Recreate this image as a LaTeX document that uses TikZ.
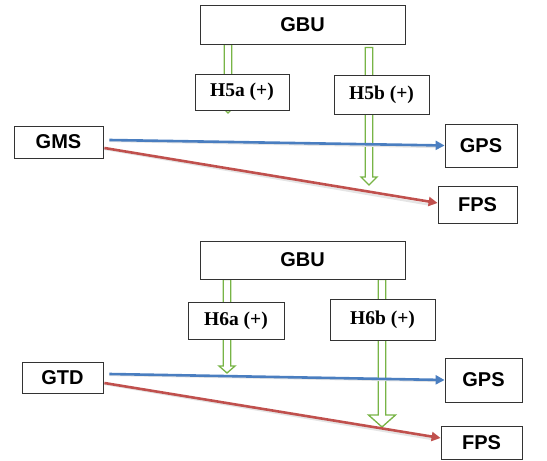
\documentclass[tikz,border=0pt]{standalone}
\usepackage{fontspec}
\setmainfont{Liberation Serif}
\setsansfont{Liberation Sans}
\usepackage{xcolor}
\usepackage{tikz}
\usetikzlibrary{arrows.meta, calc, backgrounds}
\definecolor{linkblue}{HTML}{4A7EC0}
\definecolor{linkred}{HTML}{C0504D}
\definecolor{hypgreen}{HTML}{78B446}

% hollow block arrow: start, tip, head length, head half width
\newcommand{\hollowarrow}[4]{%
    \draw[hollow] let \p1=#1, \p2=#2 in
      (\x1-3.8pt,\y1) -- (\x1-3.8pt,\y2+#3) -- (\x1-#4,\y2+#3) -- (\x2,\y2)
      -- (\x1+#4,\y2+#3) -- (\x1+3.8pt,\y2+#3) -- (\x1+3.8pt,\y1) -- cycle;}

\begin{document}
\begin{tikzpicture}[x=1pt, y=-1pt,
    varbox/.style={draw=black!80, line width=0.8pt, fill=white, inner sep=0pt,
                   font=\sffamily\bfseries\fontsize{20}{22}\selectfont},
    hypbox/.style={draw=black!80, line width=0.8pt, fill=white, inner sep=0pt,
                   font=\rmfamily\bfseries\fontsize{19.5}{22}\selectfont},
    hollow/.style={draw=hypgreen, line width=1.3pt, fill=white},
    bluelink/.style={draw=linkblue, line width=2.6pt, -{Triangle[length=9pt, width=9pt]}},
    redlink/.style={draw=linkred, line width=2.6pt, -{Triangle[length=9pt, width=9pt]}},
    shade/.style={draw=black!10, line width=2.2pt}]
    \useasboundingbox (0,0) rectangle (547,461);

    % upper model
    \node[varbox, minimum width=205pt, minimum height=39pt] (gbuA) at (302.5,24.5) {GBU};
    \node[hypbox, minimum width=94pt, minimum height=36pt] (hfa) at (242,92) {H5a (+)};
    \node[hypbox, minimum width=95pt, minimum height=39pt] (hfb) at (381.5,94.5) {H5b (+)};
    \node[varbox, minimum width=89pt, minimum height=32pt] (gms) at (58.5,142) {GMS};
    \node[varbox, minimum width=72pt, minimum height=43pt] (gpsA) at (481,145.5) {GPS};
    \node[varbox, minimum width=79pt, minimum height=37pt] (fpsA) at (477.5,204.5) {FPS};

    % lower model
    \node[varbox, minimum width=205pt, minimum height=38pt] (gbuB) at (302.5,260) {GBU};
    \node[hypbox, minimum width=96pt, minimum height=37pt] (hsa) at (236,320.5) {H6a (+)};
    \node[hypbox, minimum width=105pt, minimum height=41pt] (hsb) at (382.5,319.5) {H6b (+)};
    \node[varbox, minimum width=81pt, minimum height=31pt] (gtd) at (62.5,377.5) {GTD};
    \node[varbox, minimum width=77pt, minimum height=44pt] (gpsB) at (483.5,380) {GPS};
    \node[varbox, minimum width=81pt, minimum height=33pt] (fpsB) at (481.5,442.5) {FPS};

    \coordinate (tipA1) at (228,113);
    \coordinate (tipB1) at (369,185);
    \coordinate (tipA2) at (227,373);
    \coordinate (tipB2) at (382,427);

    \begin{pgfonlayer}{background}
      \hollowarrow{(gbuA.south -| tipA1)}{(tipA1)}{7pt}{7pt}
      \hollowarrow{([yshift=-3pt]gbuA.south -| tipB1)}{(tipB1)}{8pt}{8pt}
      \hollowarrow{(gbuB.south -| tipA2)}{(tipA2)}{7pt}{8pt}
      \hollowarrow{(gbuB.south -| tipB2)}{(tipB2)}{12pt}{13.5pt}
    \end{pgfonlayer}

    % direct effects
    \draw[shade] ([xshift=6pt, yshift=1pt]gms.east) -- ([xshift=-9pt, yshift=-1.5pt]gpsA.west);
    \draw[bluelink] ([xshift=6pt, yshift=2pt]gms.east) -- (gpsA.west);
    \draw[shade] ([xshift=1pt, yshift=-7pt]gms.east) -- ([xshift=-9pt, yshift=0pt]fpsA.west);
    \draw[redlink] ([xshift=1pt, yshift=-6pt]gms.east) -- ([yshift=1.5pt]fpsA.west);

    \draw[shade] ([xshift=6pt, yshift=2.5pt]gtd.east) -- ([xshift=-9pt, yshift=-1pt]gpsB.west);
    \draw[bluelink] ([xshift=6pt, yshift=3.5pt]gtd.east) -- (gpsB.west);
    \draw[shade] ([xshift=1pt, yshift=-6.5pt]gtd.east) -- ([xshift=-9pt, yshift=3.5pt]fpsB.west);
    \draw[redlink] ([xshift=1pt, yshift=-5.5pt]gtd.east) -- ([yshift=4.5pt]fpsB.west);
\end{tikzpicture}
\end{document}
